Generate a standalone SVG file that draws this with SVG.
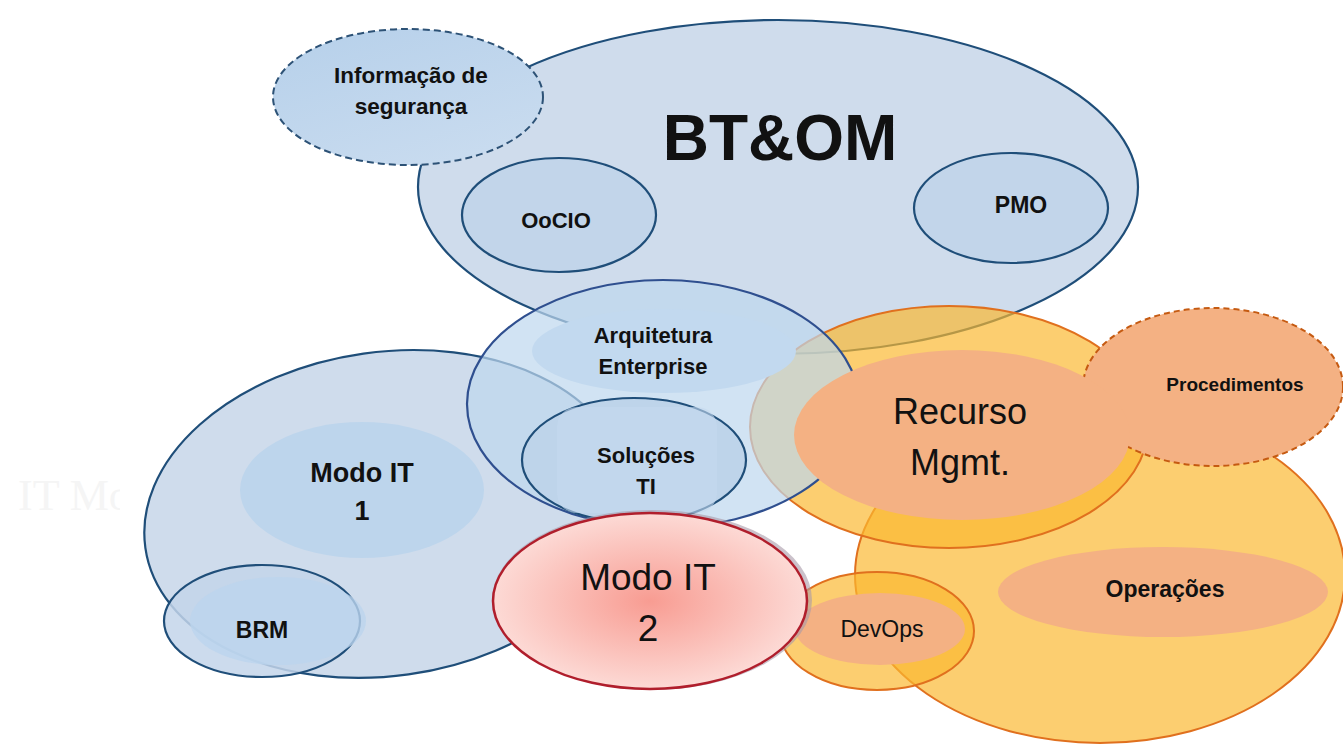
<svg xmlns="http://www.w3.org/2000/svg" width="1343" height="744" viewBox="0 0 1343 744">
<defs>
<style>
.bl{stroke:#1f4e79;stroke-width:2.2}
.or{stroke:#e0701e;stroke-width:2}
.tb{font-family:"Liberation Sans",Arial,sans-serif;font-weight:bold;fill:#111;text-anchor:middle}
.tr{font-family:"Liberation Sans",Arial,sans-serif;fill:#111;text-anchor:middle}
</style>
<linearGradient id="gInfo" x1="0" y1="0" x2="0.6" y2="1">
<stop offset="0" stop-color="#b6d0ea"/>
<stop offset="1" stop-color="#c8dbef"/>
</linearGradient>
<radialGradient id="gM2" cx="0.5" cy="0.5" r="0.55">
<stop offset="0" stop-color="#f89c92"/>
<stop offset="1" stop-color="#fde0dc"/>
</radialGradient>
<clipPath id="ghostClip"><rect x="0" y="440" width="120" height="100"/></clipPath>
</defs>
<rect width="1343" height="744" fill="#fff"/>
<text x="18" y="510" clip-path="url(#ghostClip)" style="font-family:'Liberation Serif',serif;font-size:44px;fill:#f5f5f5">IT Mo</text>

<g id="btom">
<ellipse cx="778" cy="187" rx="360" ry="167" fill="#cfdcec" class="bl"/>
</g>

<g id="modo-it-1">
<ellipse cx="386" cy="514" rx="243" ry="162" transform="rotate(-8 386 514)" fill="#cfdcec" class="bl"/>
<ellipse cx="362" cy="490" rx="122" ry="68" fill="#bdd5ec"/>
<text x="362" y="482" class="tb" style="font-size:27px">Modo IT</text>
<text x="362" y="520" class="tb" style="font-size:27px">1</text>
</g>

<g id="brm">
<ellipse cx="262" cy="621" rx="98" ry="56" fill="#c3d5ea" fill-opacity="0.85" class="bl"/>
<ellipse cx="278" cy="621" rx="88" ry="44" fill="#bcd5ee" fill-opacity="0.8"/>
<text x="262" y="638" class="tb" style="font-size:23px">BRM</text>
</g>

<g id="operacoes-outer">
<ellipse cx="1100" cy="575" rx="245" ry="168" fill="#fbb830" fill-opacity="0.69" class="or"/>
</g>

<g id="recurso-outer">
<ellipse cx="949" cy="427" rx="199" ry="121" fill="#fbb830" fill-opacity="0.69" class="or"/>
</g>

<g id="arquitetura">
<ellipse cx="663" cy="404" rx="196" ry="124" fill="#bdd7ee" fill-opacity="0.7" stroke="#2f4f8f" stroke-width="2.2"/>
<ellipse cx="664" cy="351" rx="132" ry="42" fill="#c2d9ef"/>
<text x="653" y="343" class="tb" style="font-size:22px">Arquitetura</text>
<text x="653" y="374" class="tb" style="font-size:22px">Enterprise</text>
</g>

<g id="solucoes">
<ellipse cx="634" cy="460" rx="112" ry="62" fill="#bed4ea" class="bl"/>
<rect x="557" y="407" width="160" height="106" rx="20" fill="#c4d9ef" fill-opacity="0.6"/>
<text x="646" y="463" class="tb" style="font-size:22px">Soluções</text>
<text x="646" y="494" class="tb" style="font-size:22px">TI</text>
</g>

<g id="info-seguranca">
<ellipse cx="408" cy="97" rx="135" ry="68" fill="url(#gInfo)" stroke="#2d5276" stroke-width="2" stroke-dasharray="7 4"/>
<text x="411" y="83" class="tb" style="font-size:22.5px">Informação de</text>
<text x="411" y="114" class="tb" style="font-size:22.5px">segurança</text>
</g>

<g id="oocio">
<ellipse cx="559" cy="215" rx="97" ry="57" fill="#c2d5ea" class="bl"/>
<text x="556" y="228" class="tb" style="font-size:22px">OoCIO</text>
</g>

<g id="pmo">
<ellipse cx="1011" cy="208" rx="97" ry="55" fill="#c2d5ea" class="bl"/>
<text x="1021" y="213" class="tb" style="font-size:23px">PMO</text>
</g>

<text x="780" y="160" class="tb" style="font-size:64px">BT&amp;OM</text>

<g id="procedimentos">
<ellipse cx="1213" cy="387" rx="130" ry="79" fill="#f4b183" stroke="#c55a11" stroke-width="2" stroke-dasharray="6 4"/>
<text x="1235" y="391" class="tb" style="font-size:19px">Procedimentos</text>
</g>

<g id="recurso">
<ellipse cx="962" cy="435" rx="168" ry="85" fill="#f4b183"/>
<text x="960" y="424" class="tr" style="font-size:36px">Recurso</text>
<text x="960" y="475" class="tr" style="font-size:36px">Mgmt.</text>
</g>

<g id="operacoes">
<ellipse cx="1163" cy="592" rx="165" ry="45" fill="#f4b183"/>
<text x="1165" y="597" class="tb" style="font-size:23px">Operações</text>
</g>

<g id="devops">
<ellipse cx="877" cy="631" rx="97" ry="59" fill="#fbb830" fill-opacity="0.69" class="or"/>
<ellipse cx="880" cy="629" rx="85" ry="36" fill="#f4b183"/>
<text x="882" y="637" class="tr" style="font-size:23px">DevOps</text>
</g>

<g id="modo-it-2">
<ellipse cx="652" cy="600" rx="158" ry="88" fill="none" stroke="#a89aa8" stroke-width="4" stroke-opacity="0.6"/>
<ellipse cx="650" cy="601" rx="157" ry="88" fill="url(#gM2)" stroke="#b01e2c" stroke-width="2.5"/>
<text x="648" y="590" class="tr" style="font-size:37px">Modo IT</text>
<text x="648" y="641" class="tr" style="font-size:37px">2</text>
</g>

<g id="connectors"></g>
</svg>
